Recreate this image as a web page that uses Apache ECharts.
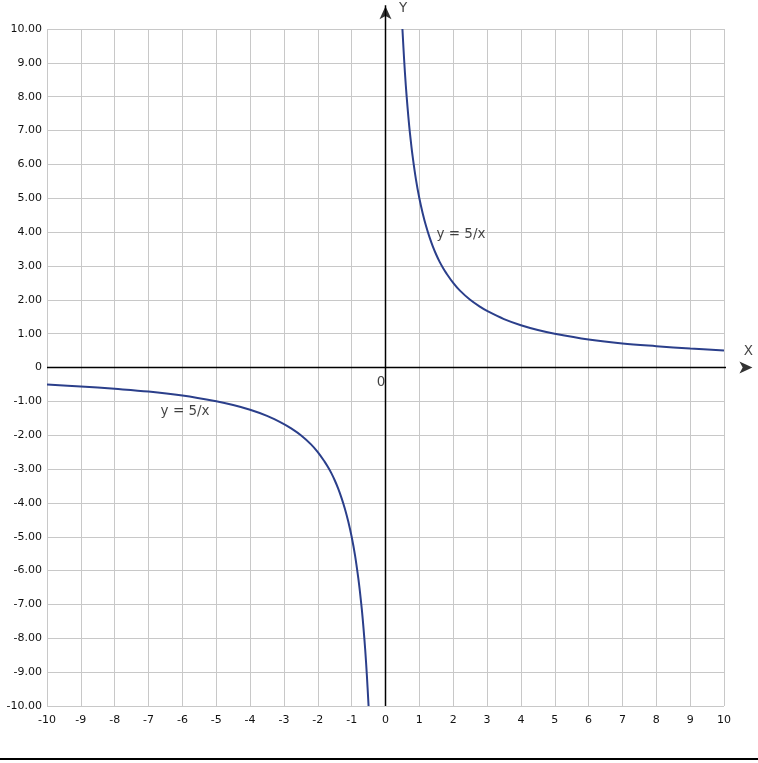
<!DOCTYPE html>
<html><head><meta charset="utf-8">
<script src="https://cdn.jsdelivr.net/npm/echarts@6/dist/echarts.min.js"></script>
<style>html,body{margin:0;padding:0;background:#fff}#c{width:758px;height:763px}</style>
</head><body><div id="c"></div>
<script>
// values
const xTicks = [-10,-9,-8,-7,-6,-5,-4,-3,-2,-1,0,1,2,3,4,5,6,7,8,9,10];
const yTicks = [-10,-9,-8,-7,-6,-5,-4,-3,-2,-1,0,1,2,3,4,5,6,7,8,9,10];
const rightX = [0.5,0.55,0.6,0.65,0.7,0.75,0.8,0.9,1,1.1,1.2,1.3,1.4,1.5,1.6,1.7,1.8,2,2.2,2.5,2.8,3,3.5,4,4.5,5,6,7,8,9,10];
const rightY = [10,9.1,8.33,7.7,7.14,6.67,6.25,5.55,5,4.55,4.17,3.85,3.57,3.33,3.12,2.94,2.78,2.5,2.27,2,1.79,1.67,1.43,1.25,1.11,1,0.83,0.71,0.63,0.56,0.5];
const leftX = [-10,-9,-8,-7,-6,-5,-4.5,-4,-3.5,-3,-2.8,-2.5,-2.2,-2,-1.8,-1.7,-1.6,-1.5,-1.4,-1.3,-1.2,-1.1,-1,-0.9,-0.8,-0.75,-0.7,-0.65,-0.6,-0.55,-0.5];
const leftY = [-0.5,-0.56,-0.63,-0.71,-0.83,-1,-1.11,-1.25,-1.43,-1.67,-1.79,-2,-2.27,-2.5,-2.78,-2.94,-3.12,-3.33,-3.57,-3.85,-4.17,-4.55,-5,-5.55,-6.25,-6.67,-7.14,-7.7,-8.33,-9.1,-10];
const curveLabels = [{text:'y = 5/x', at:[2.23,3.94]},{text:'y = 5/x', at:[-5.92,-1.29]}];

const font = 'DejaVu Sans';
const chart = echarts.init(document.getElementById('c'));
const zip = (a,b)=>a.map((v,i)=>[v,b[i]]);
const axisStyle = {color:'#000',width:1.5};
chart.setOption({
  animation:false,
  grid:{left:47,right:34,top:29,bottom:57,containLabel:false},
  xAxis:{type:'value',min:xTicks[0],max:xTicks[xTicks.length-1],interval:1,
    axisLine:{show:false,onZero:false},axisTick:{show:false},
    axisLabel:{color:'#111',fontFamily:font,fontSize:11,margin:9},
    splitLine:{lineStyle:{color:'#c8c8c8',width:1}}},
  yAxis:{type:'value',min:yTicks[0],max:yTicks[yTicks.length-1],interval:1,
    axisLine:{show:false,onZero:false},axisTick:{show:false},
    axisLabel:{color:'#111',fontFamily:font,fontSize:11,margin:5,
      formatter:v=>v===0?'0':v.toFixed(2)},
    splitLine:{lineStyle:{color:'#c8c8c8',width:1}}},
  series:[
    {type:'line',clip:false,data:[[-10,0],[10.85,0]],showSymbol:false,silent:true,lineStyle:axisStyle,z:4},
    {type:'line',clip:false,data:[[0,-10],[0,10.7]],showSymbol:false,silent:true,lineStyle:axisStyle,z:4},
    {type:'scatter',clip:false,silent:true,symbol:'arrow',symbolSize:[9,13],itemStyle:{color:'#000'},z:5,
      data:[{value:[10.84,0],symbolRotate:-90},{value:[0,10.67],symbolRotate:0}]},
    {type:'line',data:zip(rightX,rightY),smooth:0.35,showSymbol:false,
      lineStyle:{color:'#2b3f8b',width:2},z:3},
    {type:'line',data:zip(leftX,leftY),smooth:0.35,showSymbol:false,
      lineStyle:{color:'#2b3f8b',width:2},z:3},
    {type:'scatter',symbolSize:0,clip:false,silent:true,
      data:[
        {value:curveLabels[0].at,label:{formatter:curveLabels[0].text}},
        {value:curveLabels[1].at,label:{formatter:curveLabels[1].text}},
        {value:[10.72,0.48],label:{formatter:'X'}},
        {value:[0.52,10.6],label:{formatter:'Y'}},
        {value:[-0.13,-0.43],label:{formatter:'0'}}
      ],
      label:{show:true,position:'inside',color:'#111',fontFamily:font,fontSize:13.5}}
  ],
  graphic:[{type:'line',shape:{x1:0,y1:759,x2:758,y2:759},style:{stroke:'#000',lineWidth:2}}]
});
</script></body></html>
